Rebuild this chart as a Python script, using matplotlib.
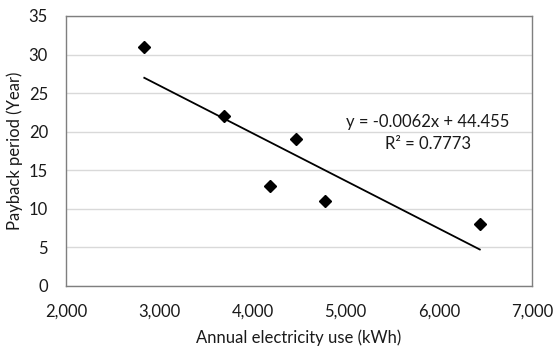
import numpy as np
import matplotlib.pyplot as plt

# ------------------------
# Datos
# ------------------------
consumo_kwh = [2840, 3695, 4190, 4465, 4780, 6440]
payback_anios = [31, 22, 13, 19, 11, 8]
x_ticks = [2000, 3000, 4000, 5000, 6000, 7000]
y_ticks = [0, 5, 10, 15, 20, 25, 30, 35]
ecuacion = "y = -0.0062x + 44.455"
r2_texto = "R² = 0.7773"

plt.rcParams['font.family'] = ['Lato', 'DejaVu Sans']
color_texto = '#1a1a1a'
tam = 12

fig = plt.figure(figsize=(5.56, 3.47), dpi=100)
ax = fig.add_axes([66 / 556, 1 - 286 / 347, (532 - 66) / 556, (286 - 16) / 347])

# Puntos
ax.plot(consumo_kwh, payback_anios, linestyle='none', marker='D', markersize=6.5,
        color='black', zorder=3)

# Línea de tendencia (ajuste lineal)
pendiente, intercepto = np.polyfit(consumo_kwh, payback_anios, 1)
xs = np.array([min(consumo_kwh), max(consumo_kwh)])
ax.plot(xs, pendiente * xs + intercepto, color='black', linewidth=1.3, zorder=2)

ax.text(5885, 21.3, ecuacion, ha='center', va='center', fontsize=tam, color=color_texto)
ax.text(5885, 18.4, r2_texto, ha='center', va='center', fontsize=tam, color=color_texto)

ax.set_xlim(2000, 7000)
ax.set_ylim(0, 35)
ax.set_xticks(x_ticks)
ax.set_xticklabels([f"{v:,}" for v in x_ticks])
ax.set_yticks(y_ticks)
ax.tick_params(length=0, labelsize=tam, labelcolor=color_texto)
ax.tick_params(axis='x', pad=12.5)
ax.tick_params(axis='y', pad=13)

ax.grid(axis='y', color='#d9d9d9', linewidth=1)
ax.set_axisbelow(True)
for s in ax.spines.values():
    s.set_color('#7f7f7f')
    s.set_linewidth(1)

ax.set_xlabel("Annual electricity use (kWh)", fontsize=tam, color=color_texto, labelpad=7)
ax.set_ylabel("Payback period (Year)", fontsize=tam, color=color_texto, labelpad=4)

fig.savefig("out.png", dpi=100)
